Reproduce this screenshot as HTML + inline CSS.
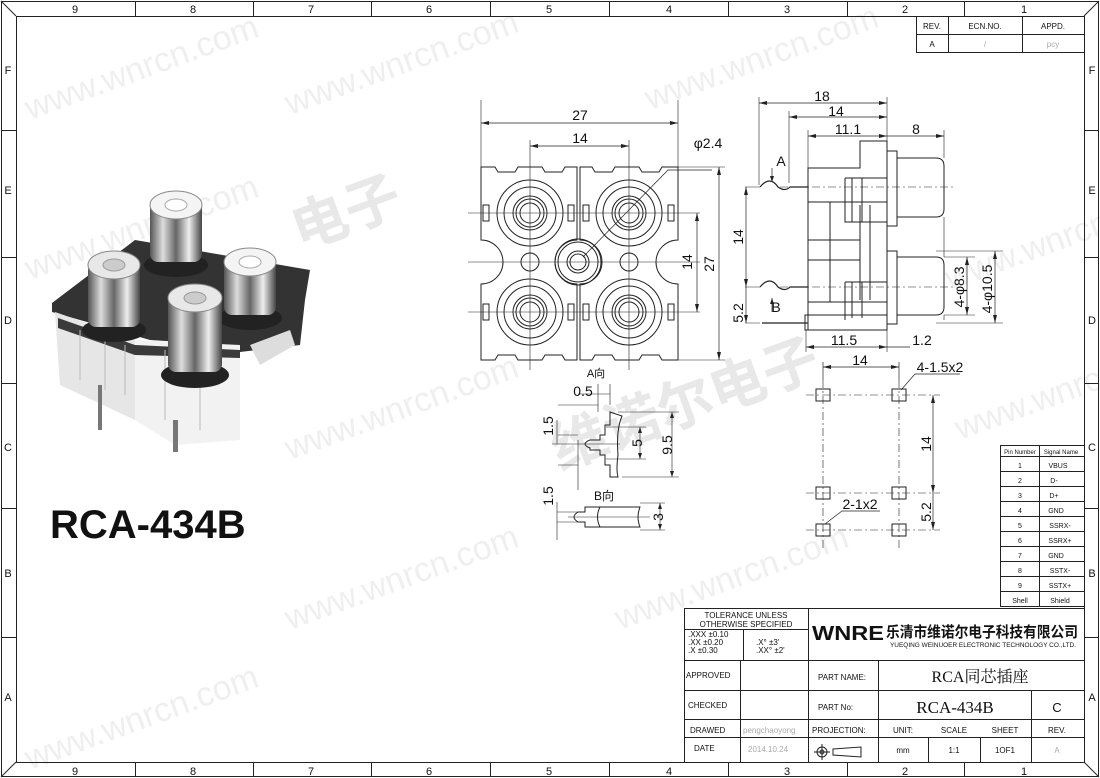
<!DOCTYPE html>
<html><head><meta charset="utf-8"><style>
body{margin:0;background:#fff}
svg{display:block}
text{font-family:"Liberation Sans","Noto Sans CJK SC",sans-serif;fill:#111}
.t{font-size:11px}
.s{font-size:8px}
.d{font-size:14px}
.wm{font-size:34px;fill:#efefef;font-family:"Liberation Sans",sans-serif}
</style></head><body>
<svg width="1100" height="778" viewBox="0 0 1100 778" xmlns="http://www.w3.org/2000/svg">
<defs>
<linearGradient id="sil" x1="0" x2="1" y1="0" y2="0">
<stop offset="0" stop-color="#555"/><stop offset=".25" stop-color="#ddd"/><stop offset=".5" stop-color="#666"/><stop offset=".75" stop-color="#eee"/><stop offset="1" stop-color="#444"/>
</linearGradient>
</defs>
<g class="wm">
<text x="30" y="120" transform="rotate(-20 30 120)" class="wm">www.wnrcn.com</text>
<text x="290" y="115" transform="rotate(-20 290 115)" class="wm">www.wnrcn.com</text>
<text x="30" y="280" transform="rotate(-20 30 280)" class="wm">www.wnrcn.com</text>
<text x="290" y="460" transform="rotate(-20 290 460)" class="wm">www.wnrcn.com</text>
<text x="30" y="770" transform="rotate(-20 30 770)" class="wm">www.wnrcn.com</text>
<text x="290" y="630" transform="rotate(-20 290 630)" class="wm">www.wnrcn.com</text>
<text x="620" y="630" transform="rotate(-20 620 630)" class="wm">www.wnrcn.com</text>
<text x="650" y="110" transform="rotate(-20 650 110)" class="wm">www.wnrcn.com</text>
<text x="950" y="290" transform="rotate(-20 950 290)" class="wm">www.wnrcn.com</text>
<text x="960" y="440" transform="rotate(-20 960 440)" class="wm">www.wnrcn.com</text>
</g>
<text x="300" y="250" style="font-size:56px;fill:#e8e8e8;font-weight:bold" transform="rotate(-20 300 250)">电子</text>
<text x="560" y="470" style="font-size:56px;fill:#e8e8e8;font-weight:bold" transform="rotate(-20 560 470)">维诺尔电子</text>

<g fill="none" stroke="#222" stroke-width="1">
<rect x="1.5" y="1.5" width="1097" height="775"/>
<rect x="16.5" y="16.5" width="1068" height="746"/>
<line x1="1" y1="1" x2="16" y2="16"/><line x1="1099" y1="1" x2="1084" y2="16"/>
<line x1="1" y1="777" x2="16" y2="762"/><line x1="1099" y1="777" x2="1084" y2="762"/>
<path d="M135.5 1V16M253.5 1V16M371.5 1V16M490.5 1V16M609.5 1V16M728.5 1V16M847.5 1V16M964.5 1V16"/>
<path d="M135.5 762V777M253.5 762V777M371.5 762V777M490.5 762V777M609.5 762V777M728.5 762V777M847.5 762V777M964.5 762V777"/>
<path d="M1 130.5H16M1 257.5H16M1 383.5H16M1 508.5H16M1 637.5H16"/>
<path d="M1084 130.5H1099M1084 257.5H1099M1084 383.5H1099M1084 508.5H1099M1084 637.5H1099"/>
<rect x="916.5" y="16.5" width="168" height="36"/>
<path d="M916 34.5H1084M948.5 16V52M1022.5 16V52"/>
</g>
<g class="t" text-anchor="middle">
<text x="75" y="13">9</text><text x="193" y="13">8</text><text x="311" y="13">7</text><text x="429" y="13">6</text><text x="549" y="13">5</text><text x="669" y="13">4</text><text x="787" y="13">3</text><text x="905" y="13">2</text><text x="1024" y="13">1</text>
<text x="75" y="775">9</text><text x="193" y="775">8</text><text x="311" y="775">7</text><text x="429" y="775">6</text><text x="549" y="775">5</text><text x="669" y="775">4</text><text x="787" y="775">3</text><text x="905" y="775">2</text><text x="1024" y="775">1</text>
<text x="8" y="74">F</text><text x="8" y="194">E</text><text x="8" y="324">D</text><text x="8" y="451">C</text><text x="8" y="577">B</text><text x="8" y="701">A</text>
<text x="1092" y="74">F</text><text x="1092" y="194">E</text><text x="1092" y="324">D</text><text x="1092" y="451">C</text><text x="1092" y="577">B</text><text x="1092" y="701">A</text>
</g>
<g class="s" text-anchor="middle">
<text x="932" y="29">REV.</text><text x="985" y="29">ECN.NO.</text><text x="1053" y="29">APPD.</text>
<text x="932" y="47">A</text><text x="985" y="47" style="fill:#aaa">/</text><text x="1053" y="47" style="fill:#aaa">pcy</text>
</g>

<!-- photo -->
<g>
<path d="M52 303 L135 240 L310 270 L305 300 L300 345 L240 352 L230 345 L150 340 L52 312 Z" fill="#333"/>
<path d="M55 312 L135 340 L135 420 L60 385 Z" fill="#e6e6e6"/>
<path d="M135 340 L240 345 L240 440 L175 445 L135 420 Z" fill="#f2f2f2"/>
<path d="M250 345 L290 330 L295 345 L260 365 Z" fill="#ddd"/>
<path d="M58 318 L135 345 L240 350 L240 358 L135 355 L58 328Z" fill="#3a3a3a"/>
<path d="M80 330v50M105 340v50M125 345v50M165 350v70M200 350v80" stroke="#bbb"/>
<rect x="98" y="385" width="4" height="45" fill="#777"/><rect x="173" y="420" width="5" height="32" fill="#777"/>
<g>
<ellipse cx="176" cy="265" rx="32" ry="12" fill="#222"/>
<rect x="150" y="200" width="52" height="62" rx="8" fill="url(#sil)"/><ellipse cx="176" cy="205" rx="26" ry="14" fill="#f4f4f4" stroke="#888"/><ellipse cx="176" cy="205" rx="11" ry="6" fill="#fff" stroke="#aaa"/>
<ellipse cx="250" cy="318" rx="32" ry="12" fill="#222"/>
<rect x="224" y="255" width="52" height="60" rx="8" fill="url(#sil)"/><ellipse cx="250" cy="262" rx="26" ry="14" fill="#f4f4f4" stroke="#888"/><ellipse cx="250" cy="262" rx="11" ry="6" fill="#fff" stroke="#aaa"/>
<ellipse cx="114" cy="330" rx="32" ry="12" fill="#222"/>
<rect x="88" y="260" width="52" height="67" rx="8" fill="url(#sil)"/><ellipse cx="114" cy="265" rx="26" ry="14" fill="#e8e8e8" stroke="#888"/><ellipse cx="114" cy="265" rx="11" ry="6" fill="#ccc" stroke="#999"/>
<ellipse cx="195" cy="375" rx="34" ry="13" fill="#222"/>
<rect x="168" y="292" width="54" height="80" rx="8" fill="url(#sil)"/><ellipse cx="195" cy="298" rx="27" ry="14" fill="#e8e8e8" stroke="#888"/><ellipse cx="195" cy="298" rx="11" ry="6" fill="#ccc" stroke="#999"/>
</g>
</g>
<text x="50" y="538" style="font-size:40px;font-weight:bold">RCA-434B</text>

<!-- front view -->
<g fill="none" stroke="#222" stroke-width="1">
<path d="M481 167H495L498 172H515L518 167H542L545 172H562L565 167H577V240A22 22 0 0 0 577 284V360H565L562 355H545L542 360H518L515 355H498L495 360H481V284A22 22 0 0 0 481 240Z"/>
<path d="M580 167H592L595 172H612L615 167H639L642 172H659L662 167H678V240A22 22 0 0 0 678 284V360H662L659 355H642L639 360H615L612 355H595L592 360H580V284A22 22 0 0 0 580 240Z"/>
<g id="rc"><circle cx="530" cy="213" r="33"/><circle cx="530" cy="213" r="26"/><circle cx="530" cy="213" r="17"/><circle cx="530" cy="213" r="14"/><circle cx="530" cy="213" r="10"/></g>
<use href="#rc" x="99"/><use href="#rc" y="99"/><use href="#rc" x="99" y="99"/>
<circle cx="530" cy="262" r="9"/><circle cx="629" cy="262" r="9"/>
<circle cx="578" cy="262" r="23"/><circle cx="578" cy="262" r="20"/><circle cx="578" cy="262" r="11"/><circle cx="578" cy="262" r="8"/>
<path d="M483 205h6v16h-6zM568 205h6v16h-6zM583 205h6v16h-6zM668 205h6v16h-6zM483 304h6v16h-6zM568 304h6v16h-6zM583 304h6v16h-6zM668 304h6v16h-6z"/>
<path d="M481 100V167M678 100V167M530 140V370M629 140V370M468 213H700M468 312H700M468 262H700M678 167H725M678 360H725" stroke-width=".6"/>
<path d="M481 123H678M530 146H629M697 213V312M719 167V360M583 257L668 170H712" stroke-width=".7"/>
</g>
<g fill="#222">
<path d="M481 123l8-2v4zM678 123l-8-2v4zM530 146l8-2v4zM629 146l-8-2v4zM697 213l-2 8h4zM697 312l-2-8h4zM719 167l-2 8h4zM719 360l-2-8h4z"/>
</g>
<g class="d" text-anchor="middle">
<text x="580" y="120">27</text><text x="580" y="143">14</text><text x="708" y="148">φ2.4</text>
<text x="692" y="262" transform="rotate(-90 692 262)">14</text>
<text x="714" y="264" transform="rotate(-90 714 264)">27</text>
<text x="596" y="377" style="font-size:11px">A向</text>
</g>

<!-- side view -->
<g fill="none" stroke="#222" stroke-width="1">
<path d="M808 168H860V141H887V330H808Z"/>
<path d="M845 178H887M845 178V222H887M808 202H887M808 302H887M845 282H887M845 282V320M808 240H860M808 260H860M830 202V302M860 205V300M870 205V300"/>
<path d="M852 178v44M862 178v44M852 282v36M862 282v36"/>
<path d="M887 151H897V226H887M887 251H897V324H887"/>
<path d="M897 158H936Q944 158 944 166V209Q944 217 936 217H897M897 257H936Q944 257 944 265V307Q944 315 936 315H897"/>
<path d="M805 315H887V330H805Z"/>
<path d="M760 187Q770 175 778 187Q785 192 790 187H808M760 287Q770 275 778 287Q785 292 790 287H808M762 323H808" stroke-width="1.2"/>
<path d="M780 187H955M780 287H955" stroke-dasharray="8 3 2 3" stroke-width=".6"/>
<path d="M759 97V185M789 111V183M808 130V168M887 97V168M944 130V158M944 217V257M944 315V320M806 330V352M887 330V352M944 257H975M944 315H975M936 251H1003M936 323H1003M745 187H760M745 287H760M745 323H760" stroke-width=".6"/>
<path d="M759 103H887M789 117H887M808 136H887M887 136H944M806 347H887M887 347H910M746 187V323M967 257V315M995 251V323" stroke-width=".7"/>
<path d="M772 168V182M772 298V312" stroke-width=".7"/>
</g>
<g fill="#222">
<path d="M759 103l8-2v4zM887 103l-8-2v4zM789 117l8-2v4zM887 117l-8-2v4zM808 136l8-2v4zM887 136l-8-2v4zM944 136l-8-2v4zM806 347l8-2v4zM887 347l-8-2v4zM746 187l-2 8h4zM746 287l-2-8h4zM746 323l-2-8h4zM967 257l-2 8h4zM967 315l-2-8h4zM995 251l-2 8h4zM995 323l-2-8h4zM772 182l-2-6h4zM772 298l-2 6h4z"/>
</g>
<g class="d" text-anchor="middle">
<text x="822" y="101">18</text><text x="836" y="116">14</text><text x="848" y="134">11.1</text><text x="916" y="134">8</text>
<text x="781" y="166">A</text><text x="776" y="312">B</text>
<text x="844" y="345">11.5</text><text x="922" y="345">1.2</text>
<text x="743" y="237" transform="rotate(-90 743 237)">14</text>
<text x="743" y="313" transform="rotate(-90 743 313)">5.2</text>
<text x="964" y="287" transform="rotate(-90 964 287)">4-φ8.3</text>
<text x="992" y="289" transform="rotate(-90 992 289)">4-φ10.5</text>
</g>

<!-- A view / B view -->
<g fill="none" stroke="#222" stroke-width="1">
<path d="M610 412L622 416Q616 430 618 455Q616 470 618 477H610V465H605V455H600V450H590V448Q580 444 590 440H600V435H605V425H610Z"/>
<path d="M578 440V490M598 384V412M610 384V405M558 405H598M618 412H679M622 477H679M606 427H646M606 459H646M552 444H620M558 435H578M558 465H578" stroke-width=".6"/>
<path d="M578 394H610M672 412V477M640 427V459M557 420V444" stroke-width=".6"/>
<path d="M600 507Q595 517 600 527H585V522H578Q570 517 578 512H585V507Z"/>
<path d="M600 507H640Q636 517 640 527H600"/>
<path d="M557 502V540M557 512H585M557 522H585M640 503H665M640 530H665M660 503V530M568 517H650" stroke-width=".6"/>
</g>
<g fill="#222"><path d="M672 412l-2 6h4zM672 477l-2-6h4zM640 427l-2 6h4zM640 459l-2-6h4zM660 503l-2 6h4zM660 530l-2-6h4z"/></g>
<g class="d" text-anchor="middle">
<text x="583" y="396">0.5</text>
<text x="553" y="426" transform="rotate(-90 553 426)">1.5</text>
<text x="642" y="443" transform="rotate(-90 642 443)">5</text>
<text x="672" y="445" transform="rotate(-90 672 445)">9.5</text>
<text x="553" y="496" transform="rotate(-90 553 496)">1.5</text>
<text x="663" y="517" transform="rotate(-90 663 517)">3</text>
<text x="604" y="500" style="font-size:12px">B向</text>
</g>

<!-- PCB footprint -->
<g fill="none" stroke="#222" stroke-width="1">
<rect x="816" y="389" width="14" height="12"/><rect x="892" y="389" width="14" height="12"/>
<rect x="816" y="487" width="14" height="12"/><rect x="892" y="487" width="14" height="12"/>
<rect x="816" y="524" width="14" height="12"/><rect x="892" y="524" width="14" height="12"/>
<path d="M806 395H940M806 493H940M806 530H940M823 380V550M899 380V550" stroke-dasharray="8 3 2 3" stroke-width=".6"/>
<path d="M823 362V380M899 362V380M823 367H899M933 395V530M901 390L915 374H960M825 524L842 511H880" stroke-width=".7"/>
</g>
<g fill="#222"><path d="M823 367l8-2v4zM899 367l-8-2v4zM933 395l-2 8h4zM933 493l-2-8h4zM933 530l-2-8h4z"/></g>
<g class="d" text-anchor="middle">
<text x="860" y="365">14</text><text x="940" y="372">4-1.5x2</text><text x="860" y="509">2-1x2</text>
<text x="931" y="444" transform="rotate(-90 931 444)">14</text>
<text x="931" y="512" transform="rotate(-90 931 512)">5.2</text>
</g>

<!-- pin table -->
<g fill="none" stroke="#222" stroke-width="1">
<rect x="1000.5" y="445.5" width="84" height="161"/>
<path d="M1039.5 445V606M1000 456.5H1084M1000 471.5H1084M1000 486.5H1084M1000 501.5H1084M1000 516.5H1084M1000 531.5H1084M1000 546.5H1084M1000 561.5H1084M1000 576.5H1084M1000 591.5H1084"/>
</g>
<g style="font-size:7px" text-anchor="middle">
<text x="1020" y="454" style="font-size:6px">Pin Number</text><text x="1061" y="454" style="font-size:6px">Signal Name</text>
<text x="1020" y="468">1</text><text x="1058" y="468">VBUS</text>
<text x="1020" y="483">2</text><text x="1054" y="483">D-</text>
<text x="1020" y="498">3</text><text x="1054" y="498">D+</text>
<text x="1020" y="513">4</text><text x="1056" y="513">GND</text>
<text x="1020" y="528">5</text><text x="1060" y="528">SSRX-</text>
<text x="1020" y="543">6</text><text x="1060" y="543">SSRX+</text>
<text x="1020" y="558">7</text><text x="1056" y="558">GND</text>
<text x="1020" y="573">8</text><text x="1060" y="573">SSTX-</text>
<text x="1020" y="588">9</text><text x="1060" y="588">SSTX+</text>
<text x="1020" y="603">Shell</text><text x="1060" y="603">Shield</text>
</g>

<!-- title block -->
<g fill="none" stroke="#222" stroke-width="1">
<path d="M684.5 762V608.5H1084M684 629.5H808M684 660.5H1084M684 690.5H1084M684 719.5H1084M684 737.5H1084M808.5 608V762M743.5 629V660M740.5 660V762M878.5 660V762M928.5 737V762M980.5 737V762M1031.5 690V762"/>
</g>
<g class="s">
<text x="746" y="618" text-anchor="middle">TOLERANCE UNLESS</text>
<text x="746" y="627" text-anchor="middle">OTHERWISE SPECIFIED</text>
<text x="688" y="637">.XXX  ±0.10</text><text x="688" y="645">.XX    ±0.20</text><text x="688" y="653">.X      ±0.30</text>
<text x="756" y="645">.X°     ±3'</text><text x="756" y="653">.XX°   ±2'</text>
<text x="686" y="678">APPROVED</text><text x="688" y="708">CHECKED</text>
<text x="690" y="733">DRAWED</text><text x="694" y="751">DATE</text>
<text x="743" y="733" style="fill:#aaa">pengchaoyong</text><text x="748" y="752" style="fill:#aaa">2014.10.24</text>
<text x="818" y="680">PART  NAME:</text><text x="818" y="710">PART  No:</text><text x="812" y="733">PROJECTION:</text>
<g text-anchor="middle"><text x="903" y="733">UNIT:</text><text x="954" y="733">SCALE</text><text x="1005" y="733">SHEET</text><text x="1057" y="733">REV.</text>
<text x="903" y="753">mm</text><text x="954" y="753">1:1</text><text x="1005" y="753">1OF1</text><text x="1057" y="753" style="fill:#aaa">A</text></g>
<text x="890" y="647" style="font-size:6px" textLength="186" lengthAdjust="spacingAndGlyphs">YUEQING WEINUOER ELECTRONIC TECHNOLOGY CO.,LTD.</text>
</g>
<text x="812" y="640" style="font-size:20px;font-weight:900" textLength="72" lengthAdjust="spacingAndGlyphs">WNRE</text>
<text x="886" y="637" style="font-size:15px;font-weight:bold" textLength="192" lengthAdjust="spacingAndGlyphs">乐清市维诺尔电子科技有限公司</text>
<text x="980" y="682" text-anchor="middle" style="font-size:16px;font-family:'Liberation Serif','Noto Serif CJK SC',serif">RCA同芯插座</text>
<text x="955" y="713" text-anchor="middle" style="font-size:17px;font-family:'Liberation Serif',serif">RCA-434B</text>
<text x="1057" y="712" text-anchor="middle" style="font-size:13px">C</text>
<g fill="none" stroke="#222"><circle cx="822" cy="752" r="5"/><circle cx="822" cy="752" r="2"/><path d="M814 752H830M822 744V760M833 749L861 747V757L833 755Z"/></g>
</svg>
</body></html>
